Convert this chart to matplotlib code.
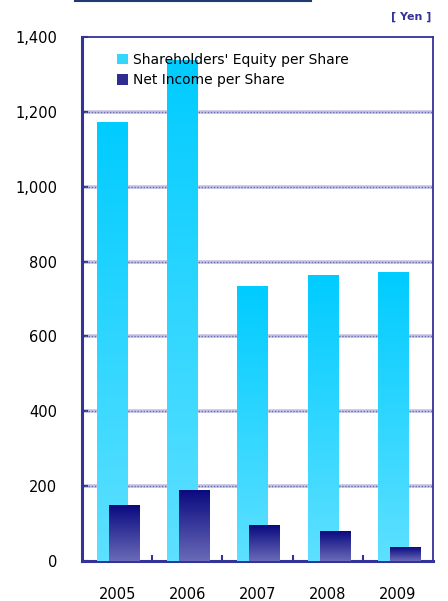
import numpy as np
import matplotlib
matplotlib.use("Agg")
import matplotlib.pyplot as plt
from matplotlib.colors import LinearSegmentedColormap
from matplotlib.patches import Patch
from matplotlib.lines import Line2D

years = ["2005", "2006", "2007", "2008", "2009"]
equity = [1172, 1336, 733, 763, 771]
net_income = [147, 187, 94, 80, 37]
yticks = [0, 200, 400, 600, 800, 1000, 1200, 1400]

cyan_map = LinearSegmentedColormap.from_list("cy", ["#5ee0ff", "#00ccff"])
navy_map = LinearSegmentedColormap.from_list("nv", ["#6a6ab8", "#0a0a80"])

fig = plt.figure(figsize=(4.48, 6.01), dpi=100)
ax = fig.add_axes([0.183, 0.0666, 0.7835, 0.872])

x = np.arange(len(years))
w = 0.43

def grad_bar(ax, xc, h, cmap, z):
    # vertical gradient clipped to the bar rectangle
    g = np.linspace(0, 1, 256).reshape(-1, 1)
    ax.imshow(g, extent=[xc - w / 2, xc + w / 2, 0, h], origin="lower",
              aspect="auto", cmap=cmap, zorder=z, interpolation="bilinear")

for i in range(len(years)):
    grad_bar(ax, x[i] - 0.071, equity[i], cyan_map, 3)
    grad_bar(ax, x[i] + 0.1, net_income[i], navy_map, 4)

# gridlines: light band with dots on top
for v in yticks[1:-1]:
    ax.axhline(v, color="#c4c4e6", lw=2.6, zorder=1)
    ax.axhline(v, color="#6c6cb0", lw=1.0, ls=(0, (1, 1.2)), zorder=2)

ax.set_xlim(-0.5, len(years) - 0.5)
ax.set_ylim(0, 1400)
ax.set_yticks(yticks)
ax.set_yticklabels([f"{v:,}" for v in yticks], fontsize=10.5)
ax.set_xticks(x)
ax.set_xticklabels(years, fontsize=10.5)
ax.tick_params(axis="x", length=0, pad=19)
ax.tick_params(axis="y", direction="in", length=4, width=1.5, color="#333399", pad=18)
ax.set_xticks(x[:-1] + 0.5, minor=True)
ax.tick_params(axis="x", which="minor", direction="in", length=4, width=1.5, color="#333399")

for s in ["left", "bottom"]:
    ax.spines[s].set_color("#333399")
    ax.spines[s].set_linewidth(2.2)
for s in ["top", "right"]:
    ax.spines[s].set_color("#333399")
    ax.spines[s].set_linewidth(1.3)

handles = [Patch(facecolor="#33d6ff", edgecolor="none"),
           Patch(facecolor="#2e2e90", edgecolor="none")]
leg = ax.legend(handles, ["Shareholders' Equity per Share", "Net Income per Share"],
                loc="upper left", bbox_to_anchor=(0.085, 0.98), frameon=False,
                fontsize=10, handlelength=0.8, handleheight=0.8,
                handletextpad=0.3, labelspacing=0.45, borderaxespad=0)
leg.set_zorder(10)

fig.text(0.962, 0.972, "[ Yen ]", ha="right", va="center", fontsize=8,
         fontweight="bold", color="#333399")
fig.add_artist(Line2D([75 / 448, 311 / 448], [1 - 1 / 601, 1 - 1 / 601],
                      color="#1f3b73", lw=1.5))

fig.savefig("out.png", dpi=100)
